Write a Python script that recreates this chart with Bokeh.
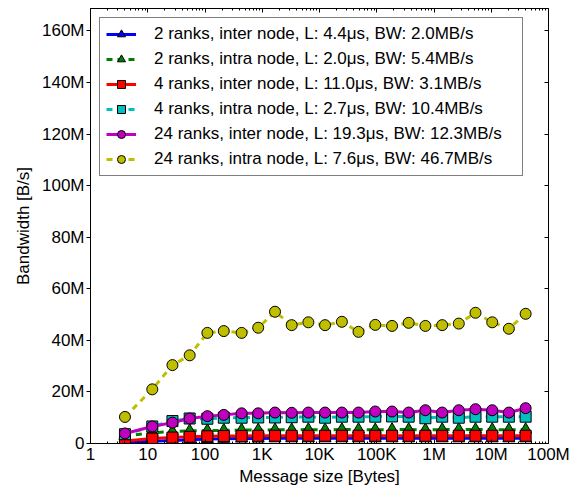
from bokeh.plotting import figure
from bokeh.models import Range1d, FixedTicker, LogAxis, LinearAxis, Legend, LegendItem, Label
from bokeh.embed import file_html
from bokeh.resources import INLINE

# message sizes [Bytes]
msg_size = [4, 12, 27, 54, 110, 213, 436, 850, 1670, 3270, 6390, 12500, 24600, 48000,
            94200, 185000, 361000, 707000, 1390000, 2710000, 5310000, 10400000, 20300000, 39900000]

# bandwidth values in MB/s
bw_2_inter = [0.5, 0.9, 1.2, 1.5, 1.7, 1.8, 1.9, 1.9, 2.0, 2.0, 2.0, 2.0, 2.0, 2.0,
              2.0, 2.0, 2.0, 2.0, 2.0, 2.0, 2.0, 2.0, 2.0, 2.0]
bw_2_intra = [2.8, 4.2, 4.6, 4.9, 5.0, 5.1, 5.2, 5.2, 5.3, 5.3, 5.4, 5.3, 5.4, 5.4,
              5.3, 5.4, 5.4, 5.3, 5.4, 5.4, 5.4, 5.4, 5.3, 5.4]
bw_4_inter = [1.0, 1.9, 2.3, 2.6, 2.8, 2.9, 2.9, 3.0, 3.0, 3.0, 3.0, 3.0, 3.0, 3.0,
              3.0, 3.0, 3.0, 3.0, 3.0, 3.0, 3.0, 3.0, 3.0, 3.0]
bw_4_intra = [3.6, 6.6, 8.7, 9.7, 9.6, 10.0, 10.0, 10.1, 10.1, 10.2, 10.4, 10.0, 10.4, 10.4,
              10.4, 10.5, 10.4, 9.8, 10.4, 10.0, 10.4, 10.4, 10.4, 10.4]
bw_24_inter = [3.9, 6.6, 8.1, 9.7, 10.6, 11.1, 11.7, 11.7, 12.0, 11.9, 12.0, 12.0, 12.0, 12.0,
               12.4, 12.4, 12.0, 12.9, 12.0, 12.9, 13.3, 12.9, 12.0, 13.7]
bw_24_intra = [10.3, 21.0, 30.4, 34.2, 42.9, 43.6, 42.9, 44.9, 51.1, 45.9, 47.0, 45.9, 47.2, 43.3,
               46.0, 45.6, 46.8, 45.6, 45.9, 46.5, 50.7, 47.0, 44.5, 50.3]

labels = [
    "2 ranks, inter node, L: 4.4\u03bcs, BW: 2.0MB/s",
    "2 ranks, intra node, L: 2.0\u03bcs, BW: 5.4MB/s",
    "4 ranks, inter node, L: 11.0\u03bcs, BW: 3.1MB/s",
    "4 ranks, intra node, L: 2.7\u03bcs, BW: 10.4MB/s",
    "24 ranks, inter node, L: 19.3\u03bcs, BW: 12.3MB/s",
    "24 ranks, intra node, L: 7.6\u03bcs, BW: 46.7MB/s",
]
series = [bw_2_inter, bw_2_intra, bw_4_inter, bw_4_intra, bw_24_inter, bw_24_intra]
colors = ["#0000ff", "#008000", "#ff0000", "#00bfbf", "#bf00bf", "#bfbf00"]
markers = ["triangle", "triangle", "square", "square", "circle", "circle"]
dashes = ["solid", "6 5", "solid", "6 5", "solid", "6 5"]
msizes = [12, 12, 11, 11, 11, 11]

x_ticks = [1, 10, 100, 1000, 10000, 100000, 1000000, 10000000, 100000000]
x_tick_labels = ["1", "10", "100", "1K", "10K", "100K", "1M", "10M", "100M"]
y_ticks = [0, 20e6, 40e6, 60e6, 80e6, 100e6, 120e6, 140e6, 160e6]
y_tick_labels = ["0", "20M", "40M", "60M", "80M", "100M", "120M", "140M", "160M"]

FONT = "Liberation Sans"
FS = "17px"

p = figure(width=573, height=488, x_axis_type="log",
           x_range=Range1d(1, 1e8), y_range=Range1d(0, 168.7e6),
           output_backend="svg", toolbar_location=None,
           min_border_left=90, min_border_right=25, min_border_top=8, min_border_bottom=44)
p.xgrid.visible = False
p.ygrid.visible = False
p.outline_line_color = "black"
p.outline_line_width = 1
p.background_fill_color = "white"

minor = []
for d in range(8):
    for k in range(2, 10):
        minor.append(k * 10 ** d)
xticker = FixedTicker(ticks=x_ticks, minor_ticks=minor)
yticker = FixedTicker(ticks=y_ticks, minor_ticks=[])

xa = p.xaxis[0]
xa.ticker = xticker
xa.major_label_overrides = {t: l for t, l in zip(x_ticks, x_tick_labels)}
xa.axis_label = "Message size [Bytes]"
ya = p.yaxis[0]
ya.ticker = yticker
ya.major_label_overrides = {t: l for t, l in zip(y_ticks, y_tick_labels)}
ya.axis_label = "Bandwidth [B/s]"

for ax in (xa, ya):
    ax.axis_label_text_font = FONT
    ax.axis_label_text_font_size = FS
    ax.axis_label_text_font_style = "normal"
    ax.axis_label_text_color = "black"
    ax.major_label_text_font = FONT
    ax.major_label_text_font_size = FS
    ax.major_label_text_color = "black"
    ax.axis_line_color = "black"
    ax.major_tick_line_color = "black"
    ax.minor_tick_line_color = "black"

xa.major_tick_in = 4
xa.major_tick_out = 0
xa.minor_tick_in = 2
xa.minor_tick_out = 0
xa.major_label_standoff = 1
xa.axis_label_standoff = 0

ya.major_tick_in = 0
ya.major_tick_out = 4
ya.minor_tick_in = 0
ya.minor_tick_out = 0
ya.major_label_standoff = 2
ya.axis_label_standoff = 6

top = LogAxis(ticker=xticker, major_tick_in=4, major_tick_out=0, minor_tick_in=2, minor_tick_out=0,
              major_label_text_font_size="1px", major_label_text_color=None, major_label_standoff=0,
              axis_line_color="black", major_tick_line_color="black", minor_tick_line_color="black")
p.add_layout(top, "above")
right = LinearAxis(ticker=yticker, major_tick_in=4, major_tick_out=0, minor_tick_in=0, minor_tick_out=0,
                   major_label_text_font_size="1px", major_label_text_color=None, major_label_standoff=0,
                   axis_line_color="black", major_tick_line_color="black")
p.add_layout(right, "right")

items = []
for lab, ys, col, mk, dash, ms in zip(labels, series, colors, markers, dashes, msizes):
    yv = [v * 1e6 for v in ys]
    lr = p.line(msg_size, yv, line_color=col, line_width=3, line_dash=dash)
    sr = p.scatter(msg_size, yv, marker=mk, size=ms, fill_color=col, line_color="black", line_width=1)
    items.append(LegendItem(label=lab, renderers=[lr, sr]))

legend = Legend(items=items, location="top_left", margin=9, padding=6, spacing=5,
                glyph_width=30, glyph_height=20, label_height=20, label_standoff=18, label_width=362,
                label_text_font=FONT, label_text_font_size=FS, label_text_color="black",
                border_line_color="black", border_line_width=1, background_fill_alpha=1)
p.add_layout(legend)

# clipped fragment of a neighbouring label at the far left edge
stray = Label(x=-87, y=-10, x_units="screen", y_units="screen", text="M",
              text_font=FONT, text_font_size=FS, text_align="right", text_baseline="middle",
              text_color="black")
p.add_layout(stray)

open("out.html", "w").write(file_html(p, INLINE))
